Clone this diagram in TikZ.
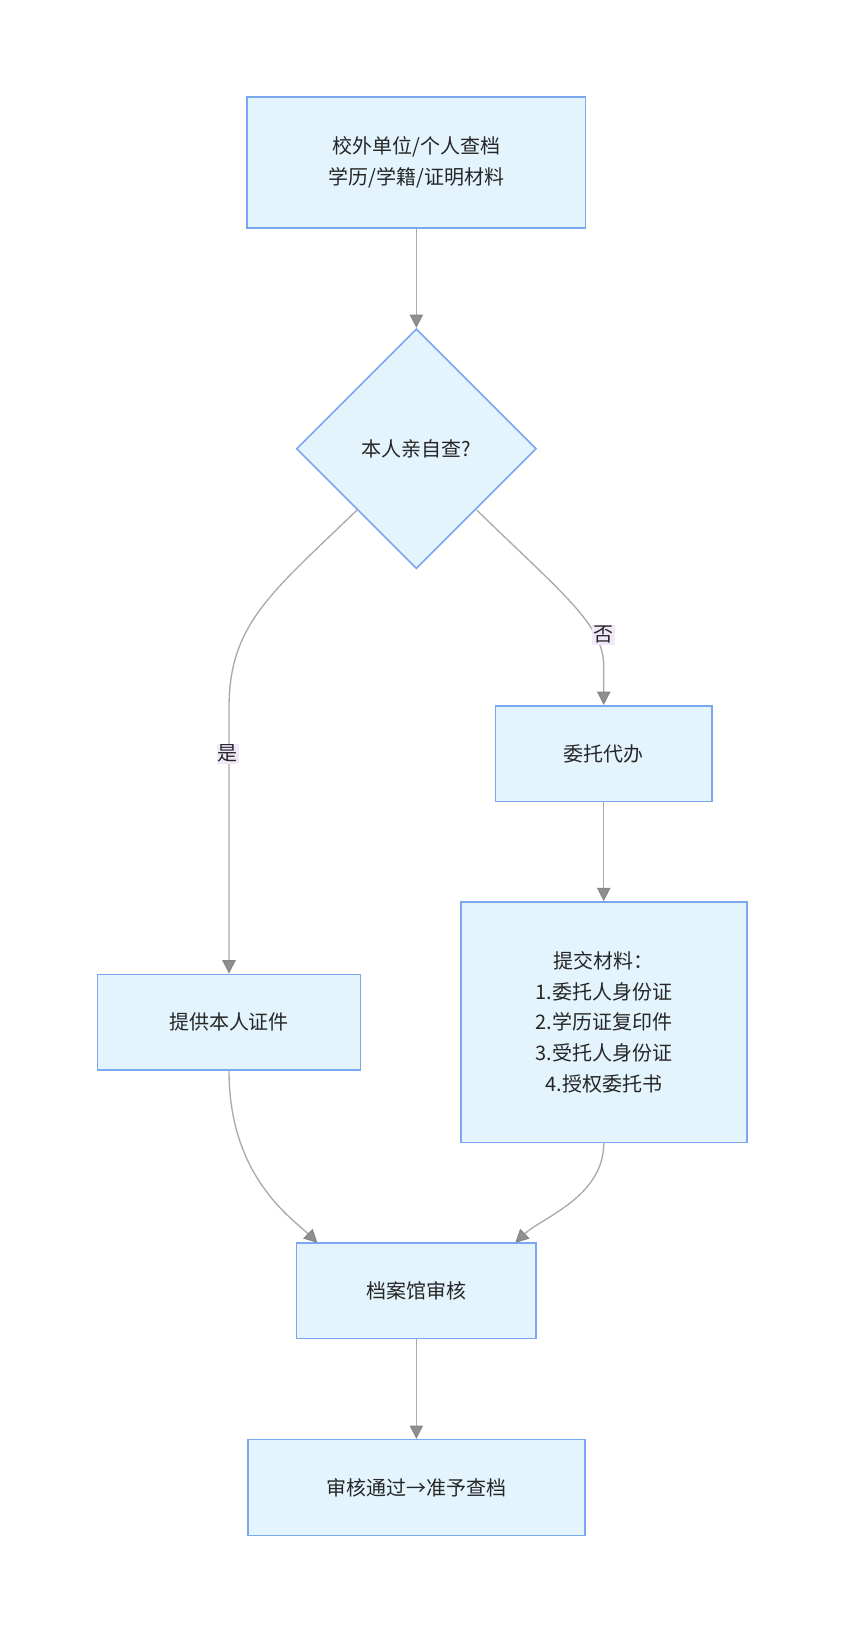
\documentclass[tikz,border=0pt]{standalone}
\usepackage{fontspec}
\setmainfont{Noto Sans CJK SC}
\usetikzlibrary{shapes.geometric,arrows.meta}
\definecolor{nfill}{HTML}{E3F4FD}
\definecolor{nline}{HTML}{7BA7F0}
\definecolor{eline}{HTML}{AAAAAA}
\definecolor{lbg}{HTML}{F1E8FA}
\begin{document}
\begin{tikzpicture}[x=0.781pt,y=-0.781pt,
 box/.style={draw=nline,fill=nfill,line width=1.2pt,align=center,font=\fontsize{15}{23}\selectfont,text=black!85,inner sep=0pt},
 edge/.style={draw=eline,line width=1pt,-{Triangle[length=10pt,width=10pt,fill=eline!85!black,color=eline!80!black]}},
 lab/.style={fill=lbg,inner sep=1pt,font=\fontsize{15}{17}\selectfont,text=black!85}]
\useasboundingbox (0,0) rectangle (808,1564);
\node[box,minimum width=253.8pt,minimum height=98.4pt] (a) at (400,156) {校外单位/个人查档\\学历/学籍/证明材料};
\node[box,diamond,minimum width=180pt,minimum height=180pt,aspect=1] (d) at (400,431) {本人亲自查?};
\node[box,minimum width=162.4pt,minimum height=71.8pt] (w) at (580,724) {委托代办};
\node[box,minimum width=214.6pt,minimum height=180.4pt] (t) at (580,982) {提交材料：\\1.委托人身份证\\2.学历证复印件\\3.受托人身份证\\4.授权委托书};
\node[box,minimum width=197.6pt,minimum height=71.8pt] (p) at (220,982) {提供本人证件};
\node[box,minimum width=179.6pt,minimum height=71.8pt] (h) at (400,1240) {档案馆审核};
\node[box,minimum width=253pt,minimum height=71.8pt] (f) at (400,1429) {审核通过→准予查档};
\draw[edge] (a) -- (d);
\draw[edge] (343,490) .. controls (260,570) and (220,600) .. (220,680) -- (p.north);
\draw[edge] (458,490) .. controls (540,570) and (580,600) .. (580,640) -- (w.north);
\node[lab] at (219,724) {是};
\node[lab] at (580,610) {否};
\draw[edge] (w) -- (t);
\draw[edge] (p.south) .. controls (220,1130) and (280,1170) .. (305,1194);
\draw[edge] (t.south) .. controls (580,1150) and (520,1170) .. (495,1194);
\draw[edge] (h) -- (f);
\end{tikzpicture}
\end{document}
